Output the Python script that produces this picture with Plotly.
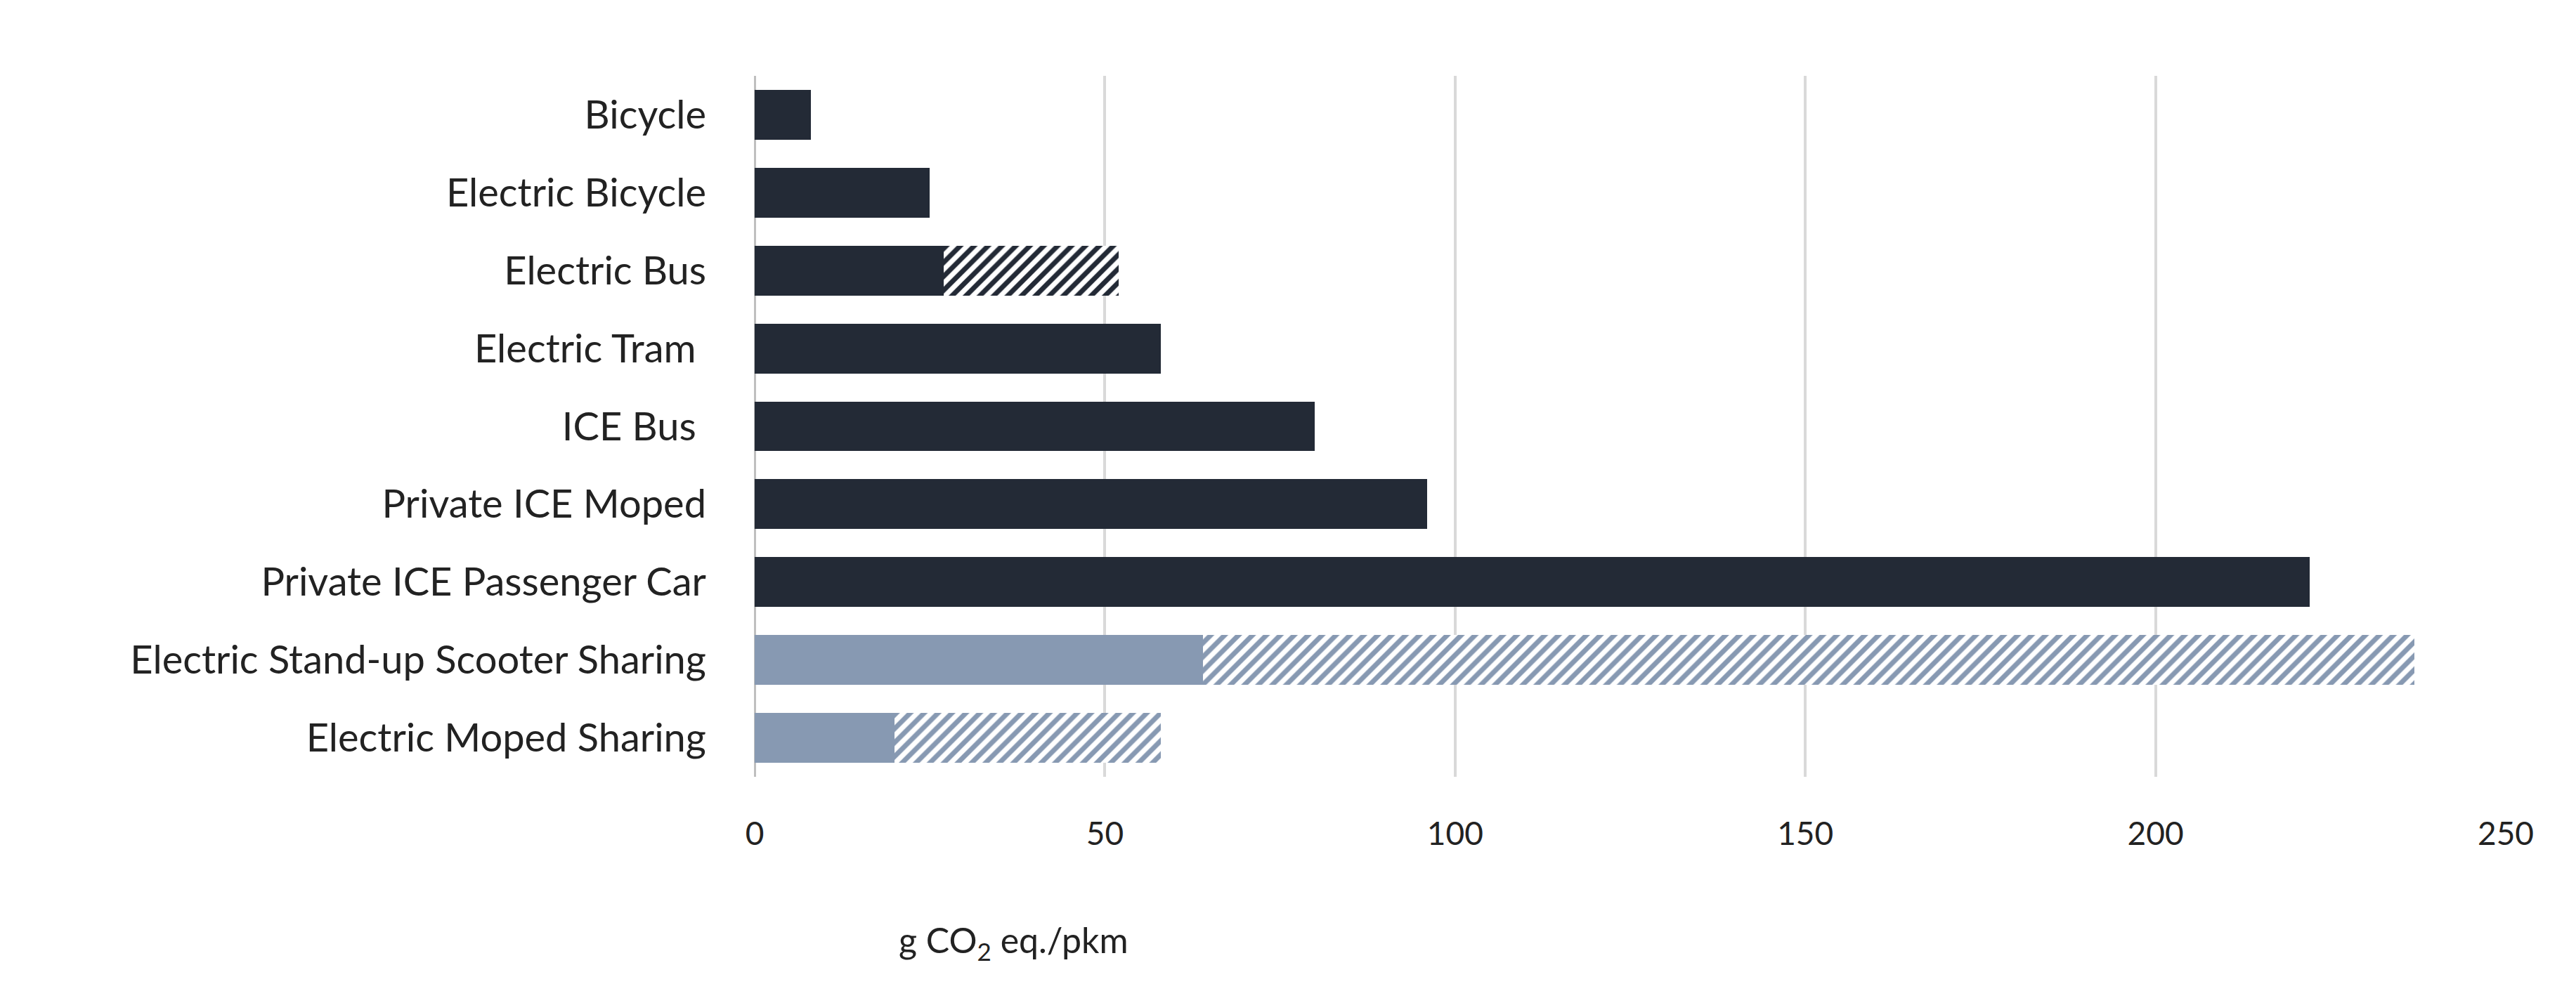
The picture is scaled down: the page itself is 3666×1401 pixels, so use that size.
import plotly.graph_objects as go

modes = ["Bicycle", "Electric Bicycle", "Electric Bus", "Electric Tram ", "ICE Bus ",
         "Private ICE Moped", "Private ICE Passenger Car",
         "Electric Stand-up Scooter Sharing", "Electric Moped Sharing"]
base = [8, 25, 27, 58, 80, 96, 222, 64, 20]
extra = [0, 0, 25, 0, 0, 0, 0, 173, 38]   # hatched range on top of base

dark = "#232a36"
light = "#8799b2"
colors = [dark] * 7 + [light] * 2

fig = go.Figure()
fig.add_trace(go.Bar(y=modes, x=base, orientation="h", marker_color=colors,
                     marker_line_width=0, showlegend=False))
fig.add_trace(go.Bar(y=modes, x=extra, orientation="h",
                     marker=dict(color="white", line_width=0,
                                 pattern=dict(shape="/", fgcolor=colors, bgcolor="white",
                                              fillmode="replace", size=14, solidity=0.5)),
                     showlegend=False))

fig.update_layout(
    barmode="stack", bargap=0.36,
    width=3666, height=1401,
    margin=dict(l=1066, r=108, t=100, b=303),
    plot_bgcolor="white", paper_bgcolor="white",
    font=dict(family="Lato, Open Sans, sans-serif", size=54, color="#222"),
)
fig.update_xaxes(range=[0, 250], dtick=50, showgrid=True, gridcolor="#d9d9d9", gridwidth=4,
                 zeroline=True, zerolinecolor="#bfbfbf", zerolinewidth=3,
                 tickfont=dict(size=46, color="#222"), ticklabelstandoff=50)
fig.update_yaxes(autorange="reversed", showgrid=False, ticklabelstandoff=68,
                 tickfont=dict(size=56, color="#222"))
fig.add_annotation(text="g CO<sub>2</sub> eq./pkm", xref="paper", yref="paper",
                   x=0.148, y=-0.2, xanchor="center", yanchor="top",
                   showarrow=False, font=dict(size=50, color="#222"))

fig.write_html("out.html")
